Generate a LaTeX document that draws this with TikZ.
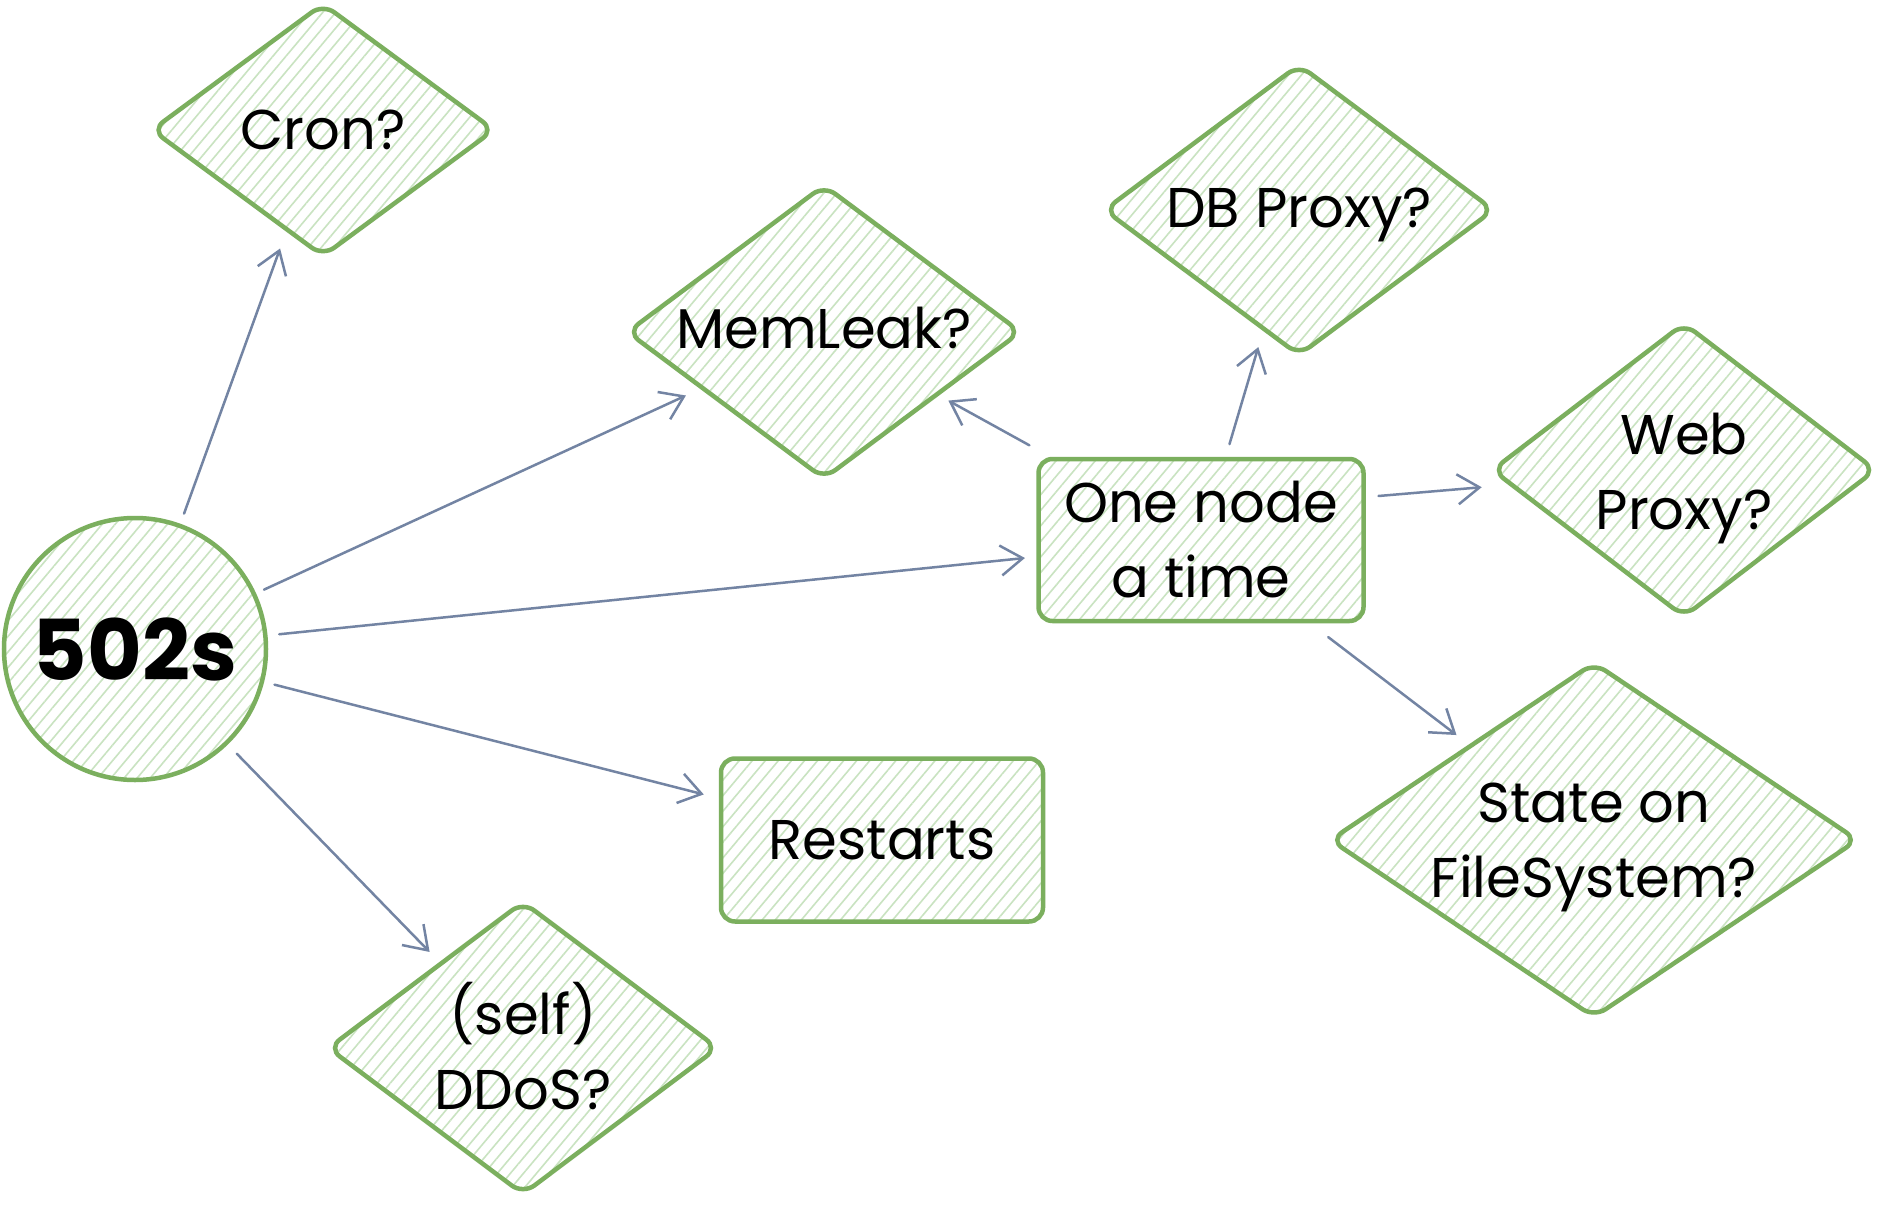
\documentclass[tikz,border=0pt]{standalone}
\usepackage{fontspec}
\setmainfont{Poppins}
\usetikzlibrary{shapes.geometric,arrows.meta,patterns.meta,calc}
\definecolor{strokec}{HTML}{7BAF5E}
\definecolor{hatchc}{HTML}{C9E3C1}
\definecolor{arrowc}{HTML}{7384A3}
\begin{document}
\begin{tikzpicture}[x=1pt,y=-1pt,
  shapebase/.style={draw=strokec, line width=4.5pt,
    pattern={Lines[angle=50,distance=10pt,line width=1.6pt]}, pattern color=hatchc,
    inner sep=0pt, outer sep=0pt},
  dia/.style={shapebase, diamond, rounded corners=14pt},
  boxr/.style={shapebase, rectangle, rounded corners=14pt, align=center,
    font=\fontsize{56}{75}\selectfont},
  circ/.style={shapebase, circle, font=\fontsize{84}{90}\selectfont\bfseries},
  lbl/.style={font=\fontsize{56}{75}\selectfont, align=center, text=black, inner sep=0pt},
  arr/.style={draw=arrowc, line width=2.5pt, line cap=round,
    -{Straight Barb[length=22pt,width=30pt,line width=2.5pt]}}
]
\useasboundingbox (0,0) rectangle (1884,1206);
\fill[white] (0,0) rectangle (1884,1206);

\node[circ, minimum size=262pt] (s502) at (135,649) {502s};
\node[dia, minimum width=342pt, minimum height=252pt, label={[lbl]center:Cron?}] (cron) at (323,130) {};
\node[dia, minimum width=393pt, minimum height=293pt, label={[lbl,yshift=4pt]center:MemLeak?}] (mem) at (824,332) {};
\node[dia, minimum width=389pt, minimum height=290pt, label={[lbl,yshift=-5pt]center:DB Proxy?}] (db) at (1299,210) {};
\node[dia, minimum width=383pt, minimum height=293pt, label={[lbl,yshift=-9pt]center:{Web\\Proxy?}}] (web) at (1684,470) {};
\node[dia, minimum width=527pt, minimum height=354pt, label={[lbl,yshift=-7pt]center:{State on\\FileSystem?}}] (state) at (1594,840) {};
\node[dia, minimum width=389pt, minimum height=292pt, label={[lbl,yshift=2pt]center:{(self)\\DDoS?}}] (ddos) at (523,1048) {};
\node[boxr, minimum width=325pt, minimum height=162pt] (one) at (1201,540) {One node\\a time};
\node[boxr, minimum width=322pt, minimum height=163pt] (restarts) at (882,840) {Restarts};

\draw[arr, shorten <=144pt, shorten >=126pt] (s502.center) -- (cron.center);
\draw[arr, shorten <=142pt, shorten >=152pt] (s502.center) -- (mem.center);
\draw[arr, shorten <=145pt, shorten >=177pt] (s502.center) -- (one.center);
\draw[arr, shorten <=144pt, shorten >=184pt] (s502.center) -- (restarts.center);
\draw[arr, shorten <=146pt, shorten >=134pt] (s502.center) -- (ddos.center);
\draw[arr, shorten <=196pt, shorten >=142pt] (one.center) -- (mem.center);
\draw[arr, shorten <=100pt, shorten >=143pt] (one.center) -- (db.center);
\draw[arr, shorten <=160pt, shorten >=173pt] (one.center) -- (state.center);
\draw[arr, shorten >=203pt] ([shift={(15,-44)}]one.east) -- (web.center);
\end{tikzpicture}
\end{document}
